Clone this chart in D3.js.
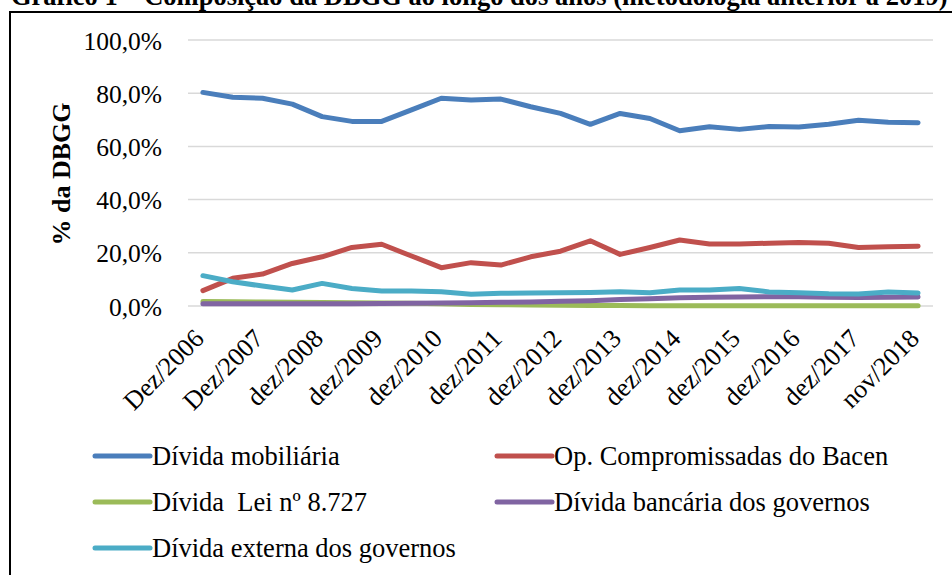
<!DOCTYPE html>
<html>
<head>
<meta charset="utf-8">
<script src="https://cdn.jsdelivr.net/npm/d3@7"></script>
<style>
  html, body { margin: 0; padding: 0; background: #fff; }
  svg { display: block; }
  text { font-family: "Liberation Serif", "Times New Roman", serif; fill: #000; }
</style>
</head>
<body>
<svg id="chart" width="952" height="575"></svg>
<script>
// Semi-annual observations; only every second one carries an axis label.
const categories = [
  "Dez/2006", "jun/2007", "Dez/2007", "jun/2008", "dez/2008", "jun/2009",
  "dez/2009", "jun/2010", "dez/2010", "jun/2011", "dez/2011", "jun/2012",
  "dez/2012", "jun/2013", "dez/2013", "jun/2014", "dez/2014", "jun/2015",
  "dez/2015", "jun/2016", "dez/2016", "jun/2017", "dez/2017", "jun/2018",
  "nov/2018"
];

// Share of the gross general government debt (% da DBGG)
const dividaMobiliaria = [80.3, 78.5, 78.1, 75.9, 71.2, 69.4, 69.4, 73.7, 78.1, 77.4, 77.8, 74.9,
  72.4, 68.3, 72.4, 70.5, 65.9, 67.4, 66.4, 67.5, 67.3, 68.3, 69.8, 69.1, 68.9];
const opCompromissadas = [5.8, 10.4, 12.0, 16.0, 18.5, 22.0, 23.2, 18.8, 14.4, 16.3, 15.4, 18.5,
  20.6, 24.5, 19.4, 22.0, 24.8, 23.3, 23.3, 23.6, 23.9, 23.6, 22.0, 22.3, 22.5];
const dividaLei8727 = [1.7, 1.6, 1.5, 1.4, 1.3, 1.2, 1.1, 1.0, 0.8, 0.6, 0.5, 0.4,
  0.3, 0.2, 0.2, 0.1, 0.1, 0.1, 0.1, 0.1, 0.1, 0.1, 0.1, 0.1, 0.1];
const dividaBancaria = [0.8, 0.8, 0.8, 0.8, 0.8, 0.8, 0.9, 1.0, 1.1, 1.2, 1.4, 1.5,
  1.8, 2.0, 2.4, 2.7, 3.1, 3.3, 3.4, 3.5, 3.5, 3.3, 3.2, 3.3, 3.4];
const dividaExterna = [11.4, 9.1, 7.5, 6.0, 8.5, 6.6, 5.6, 5.6, 5.4, 4.4, 4.8, 4.9,
  5.0, 5.1, 5.4, 5.0, 6.0, 6.0, 6.6, 5.3, 5.0, 4.6, 4.5, 5.3, 4.9];

const seriesNames = [
  "Dívida mobiliária",
  "Op. Compromissadas do Bacen",
  "Dívida  Lei nº 8.727",
  "Dívida bancária dos governos",
  "Dívida externa dos governos"
];
const seriesValues = [dividaMobiliaria, opCompromissadas, dividaLei8727, dividaBancaria, dividaExterna];
const seriesColors = ["#4A7EBB", "#C0504D", "#9BBB59", "#8064A2", "#4BACC6"];

const yTicks = [0, 20, 40, 60, 80, 100];
const titleText = "Gráfico 1 – Composição da DBGG ao longo dos anos (metodologia anterior a 2019)";
const yAxisTitle = "% da DBGG";

const serif = "'Liberation Serif', 'Times New Roman', serif";
const svg = d3.select("#chart");

// Chart title (bold, running across the top, partly above the frame)
const title = svg.append("text")
  .attr("x", 11).attr("y", 5)
  .style("font-family", serif)
  .style("font-weight", "bold").style("font-size", "25px")
  .text(titleText);
const tw = title.node().getComputedTextLength();
title.style("font-size", (25 * 937 / tw) + "px");

// Frame around the chart
svg.append("path")
  .attr("d", "M10,575 V12 H952")
  .attr("fill", "none").attr("stroke", "#000").attr("stroke-width", 2);

const x = d3.scalePoint().domain(categories).range([188, 933]).padding(0.5);
const y = d3.scaleLinear().domain([0, 100]).range([306, 40]);
const fmt = v => d3.format(".1f")(v).replace(".", ",") + "%";

// Horizontal gridlines
svg.append("g").selectAll("line").data(yTicks).join("line")
  .attr("x1", 188).attr("x2", 933)
  .attr("y1", d => y(d)).attr("y2", d => y(d))
  .attr("stroke", "#D9D9D9").attr("stroke-width", 1.5);

// Y axis labels
const yAxis = svg.append("g").attr("transform", "translate(162,0)")
  .call(d3.axisLeft(y).tickValues(yTicks).tickFormat(fmt).tickSize(0).tickPadding(0));
yAxis.select(".domain").remove();
yAxis.selectAll("text")
  .attr("dy", "0.36em")
  .style("font-family", serif)
  .style("font-size", "25.5px").attr("fill", "#000");

// X axis labels, rotated, every second category
const xAxis = svg.append("g").attr("transform", "translate(0,318)")
  .call(d3.axisBottom(x)
    .tickValues(categories.filter((c, i) => i % 2 === 0))
    .tickSize(0).tickPadding(0));
xAxis.select(".domain").remove();
xAxis.selectAll("text")
  .style("font-family", serif)
  .style("font-size", "26px").attr("fill", "#000")
  .attr("text-anchor", "end")
  .attr("dy", "0")
  .attr("transform", "translate(2,22) rotate(-45)");

// Y axis title
svg.append("text")
  .attr("transform", "translate(70,174) rotate(-90)")
  .attr("text-anchor", "middle")
  .style("font-family", serif)
  .style("font-weight", "bold").style("font-size", "26px")
  .text(yAxisTitle);

// Series lines
const line = d3.line()
  .x((d, i) => x(categories[i]))
  .y(d => y(d));

svg.append("g").selectAll("path").data(seriesValues).join("path")
  .attr("d", d => line(d))
  .attr("fill", "none")
  .attr("stroke", (d, i) => seriesColors[i])
  .attr("stroke-width", 5)
  .attr("stroke-linejoin", "round")
  .attr("stroke-linecap", "round");

// Legend: two columns, three rows
const legendPos = [
  [95, 464.5], [497, 464.5],
  [95, 510.5], [497, 510.5],
  [95, 556.5]
];
const legend = svg.append("g").selectAll("g").data(seriesNames).join("g")
  .attr("transform", (d, i) => `translate(${legendPos[i][0]},${legendPos[i][1]})`);
legend.append("line")
  .attr("x1", 0).attr("x2", 55).attr("y1", -8.5).attr("y2", -8.5)
  .attr("stroke", (d, i) => seriesColors[i])
  .attr("stroke-width", 5).attr("stroke-linecap", "round");
legend.append("text")
  .attr("x", 57).attr("y", 0)
  .style("font-family", serif)
  .style("font-size", "26.5px")
  .style("white-space", "pre")
  .attr("xml:space", "preserve")
  .text(d => d);
</script>
</body>
</html>
